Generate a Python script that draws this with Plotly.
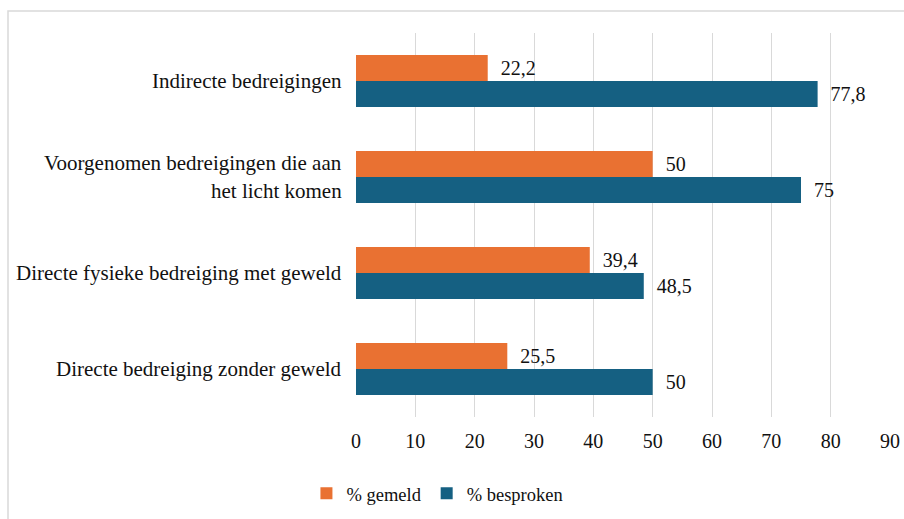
import plotly.graph_objects as go

categories = [
    "Indirecte bedreigingen",
    "Voorgenomen bedreigingen die aan<br>het licht komen",
    "Directe fysieke bedreiging met geweld",
    "Directe bedreiging zonder geweld",
]
gemeld = [22.2, 50, 39.4, 25.5]
besproken = [77.8, 75, 48.5, 50]
x_ticks = [0, 10, 20, 30, 40, 50, 60, 70, 80, 90]

ORANGE = "#E97132"
BLUE = "#156082"
FONT = "Liberation Serif"
FS = 20
FS_CAT = 21
FS_LEG = 18.5
TXT = "#111111"

fig = go.Figure()
fig.add_trace(go.Bar(
    y=categories, x=gemeld, orientation="h", name="% gemeld",
    marker=dict(color=ORANGE, line=dict(width=0)),
    texttemplate="\u00a0\u00a0%{x}", textposition="outside",
    textfont=dict(family=FONT, size=FS, color=TXT), cliponaxis=False,
))
fig.add_trace(go.Bar(
    y=categories, x=besproken, orientation="h", name="% besproken",
    marker=dict(color=BLUE, line=dict(width=0)),
    texttemplate="\u00a0\u00a0%{x}", textposition="outside",
    textfont=dict(family=FONT, size=FS, color=TXT), cliponaxis=False,
))

annotations = []
for cat in categories:
    lines = cat.split("<br>")
    n = len(lines)
    for i, ln in enumerate(lines):
        annotations.append(dict(
            x=0, xref="paper", y=cat, yref="y", text=ln, showarrow=False,
            xanchor="right", yanchor="middle", xshift=-12,
            yshift=(n - 1) * 14 - i * 28,
            font=dict(family=FONT, size=FS_CAT, color=TXT),
        ))

fig.update_layout(
    width=904, height=519,
    margin=dict(l=356, r=14, t=33, b=102, autoexpand=False),
    paper_bgcolor="white", plot_bgcolor="white",
    barmode="group", bargap=0.46, bargroupgap=0,
    separators=",.",
    font=dict(family=FONT, size=FS, color=TXT),
    showlegend=True,
    legend=dict(orientation="h", x=0.1525, xanchor="center", y=-0.2, yanchor="middle",
                font=dict(family=FONT, size=FS_LEG, color=TXT), itemwidth=30,
                traceorder="normal"),
    annotations=annotations,
    shapes=[dict(type="rect", xref="paper", yref="paper",
                 x0=(8 - 356) / 534, x1=1.2, y0=-0.5, y1=1 + (33 - 11) / 384,
                 line=dict(color="#d9d9d9", width=1.5), layer="below")],
)
fig.update_xaxes(range=[0, 90], tickvals=x_ticks, showgrid=True, gridcolor="#d9d9d9",
                 gridwidth=1.3, zeroline=False, showline=False, automargin=False,
                 ticks="outside", ticklen=6, tickcolor="rgba(0,0,0,0)",
                 tickfont=dict(family=FONT, size=FS, color=TXT), fixedrange=True)
fig.update_yaxes(autorange="reversed", showticklabels=False, showgrid=False,
                 zeroline=False, showline=False, fixedrange=True, automargin=False)

fig.write_html("out.html", config={"displayModeBar": False},
               post_script="document.body.style.margin='0';")
